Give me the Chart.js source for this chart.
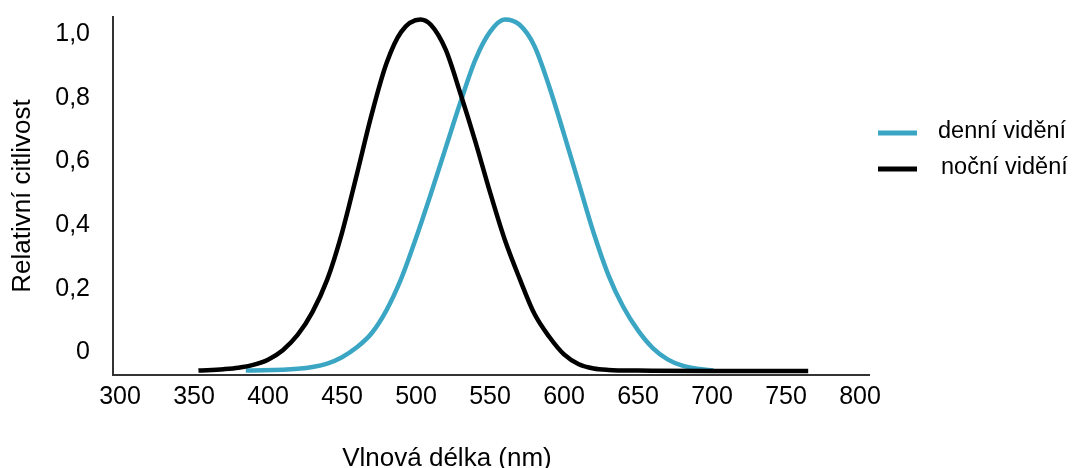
<!DOCTYPE html>
<html>
<head>
<meta charset="utf-8">
<script src="https://cdn.jsdelivr.net/npm/chart.js@4"></script>
<style>
  html, body { margin: 0; padding: 0; background: #fff; }
</style>
</head>
<body>
<canvas id="chart" width="1072" height="468"></canvas>
<script>
// wavelength (nm) and relative sensitivity
const dayNm  = [385, 420, 440, 450, 460, 470, 480, 490, 500, 510, 520, 530, 540, 550, 560, 570, 580, 590, 600, 610, 620, 630, 640, 650, 660, 670, 680, 690, 701];
const dayVal = [0.004, 0.009, 0.024, 0.042, 0.07, 0.11, 0.175, 0.265, 0.38, 0.505, 0.635, 0.765, 0.885, 0.965, 1.0, 0.985, 0.925, 0.81, 0.675, 0.535, 0.395, 0.275, 0.185, 0.118, 0.068, 0.036, 0.018, 0.009, 0.004];

const nightNm  = [353, 370, 380, 390, 400, 410, 420, 430, 440, 450, 460, 470, 480, 490, 503, 510, 520, 530, 540, 550, 560, 570, 580, 590, 600, 610, 620, 630, 650, 700, 765];
const nightVal = [0.004, 0.008, 0.012, 0.02, 0.035, 0.062, 0.105, 0.17, 0.262, 0.395, 0.56, 0.73, 0.875, 0.965, 1.0, 0.985, 0.915, 0.79, 0.655, 0.51, 0.375, 0.265, 0.165, 0.1, 0.05, 0.022, 0.01, 0.006, 0.004, 0.003, 0.003];

const seriesLabels = ['denní vidění', 'noční vidění'];
const seriesColors = ['#3ba6c4', '#000000'];

const xTicks = [300, 350, 400, 450, 500, 550, 600, 650, 700, 750, 800];
const yTicks = [0, 0.2, 0.4, 0.6, 0.8, 1.0];

const xTitle = 'Vlnová délka (nm)';
const yTitle = 'Relativní citlivost';

const FONT = '"Liberation Sans", Arial, sans-serif';
Chart.defaults.font.family = FONT;
Chart.defaults.color = '#000';

function toPoints(xs, ys) {
    return xs.map((x, i) => ({ x: x, y: ys[i] }));
}

// x-axis title and legend drawn by hand so they sit where the picture has them
const extras = {
    id: 'extras',
    afterDraw(chart) {
        const ctx = chart.ctx;
        ctx.save();
        ctx.fillStyle = '#000';
        ctx.font = '26px ' + FONT;
        ctx.textAlign = 'center';
        ctx.textBaseline = 'middle';
        ctx.fillText(xTitle, 447, 459);

        ctx.font = '23.5px ' + FONT;
        ctx.textAlign = 'left';
        chart.data.datasets.forEach((ds, i) => {
            const y = 133 + i * 36;
            ctx.strokeStyle = ds.borderColor;
            ctx.lineWidth = 5;
            ctx.beginPath();
            ctx.moveTo(878, y);
            ctx.lineTo(917, y);
            ctx.stroke();
            ctx.fillText(ds.label, 938 + i * 3, y - 1);
        });
        ctx.restore();
    }
};

new Chart(document.getElementById('chart'), {
    type: 'line',
    data: {
        datasets: [
            {
                label: seriesLabels[0],
                data: toPoints(dayNm, dayVal),
                borderColor: seriesColors[0],
                borderWidth: 4.5,
                pointRadius: 0,
                cubicInterpolationMode: 'monotone',
                order: 1
            },
            {
                label: seriesLabels[1],
                data: toPoints(nightNm, nightVal),
                borderColor: seriesColors[1],
                borderWidth: 4.5,
                pointRadius: 0,
                cubicInterpolationMode: 'monotone',
                order: 0
            }
        ]
    },
    options: {
        responsive: false,
        animation: false,
        layout: {
            padding: { top: 17, right: 203, left: 0, bottom: 0 }
        },
        plugins: {
            legend: { display: false },
            tooltip: { enabled: false }
        },
        scales: {
            x: {
                type: 'linear',
                min: 295.27,
                max: 806.08,
                afterBuildTicks: scale => {
                    scale.ticks = xTicks.map(v => ({ value: v }));
                },
                afterFit: scale => {
                    scale.height = 93;
                    scale.paddingLeft = 0;
                    scale.paddingRight = 0;
                },
                grid: { display: false, drawTicks: false },
                border: { display: true, color: '#333', width: 2 },
                ticks: {
                    autoSkip: false,
                    maxRotation: 0,
                    padding: 7,
                    font: { size: 25 },
                    callback: v => String(v)
                }
            },
            y: {
                display: false,
                min: -0.0085,
                max: 1.0071
            },
            yl: {
                position: 'left',
                min: -0.0706,
                max: 1.0534,
                afterBuildTicks: scale => {
                    scale.ticks = yTicks.map(v => ({ value: v }));
                },
                afterFit: scale => {
                    scale.width = 113;
                    scale.paddingTop = 0;
                    scale.paddingBottom = 0;
                },
                grid: { display: false, drawTicks: false },
                border: { display: true, color: '#333', width: 2 },
                title: {
                    display: true,
                    text: yTitle,
                    font: { size: 26 },
                    padding: { top: 7, bottom: 0 }
                },
                ticks: {
                    padding: 23,
                    font: { size: 25 },
                    callback: v => v === 0 ? '0' : v.toFixed(1).replace('.', ',')
                }
            }
        }
    },
    plugins: [extras]
});
</script>
</body>
</html>
